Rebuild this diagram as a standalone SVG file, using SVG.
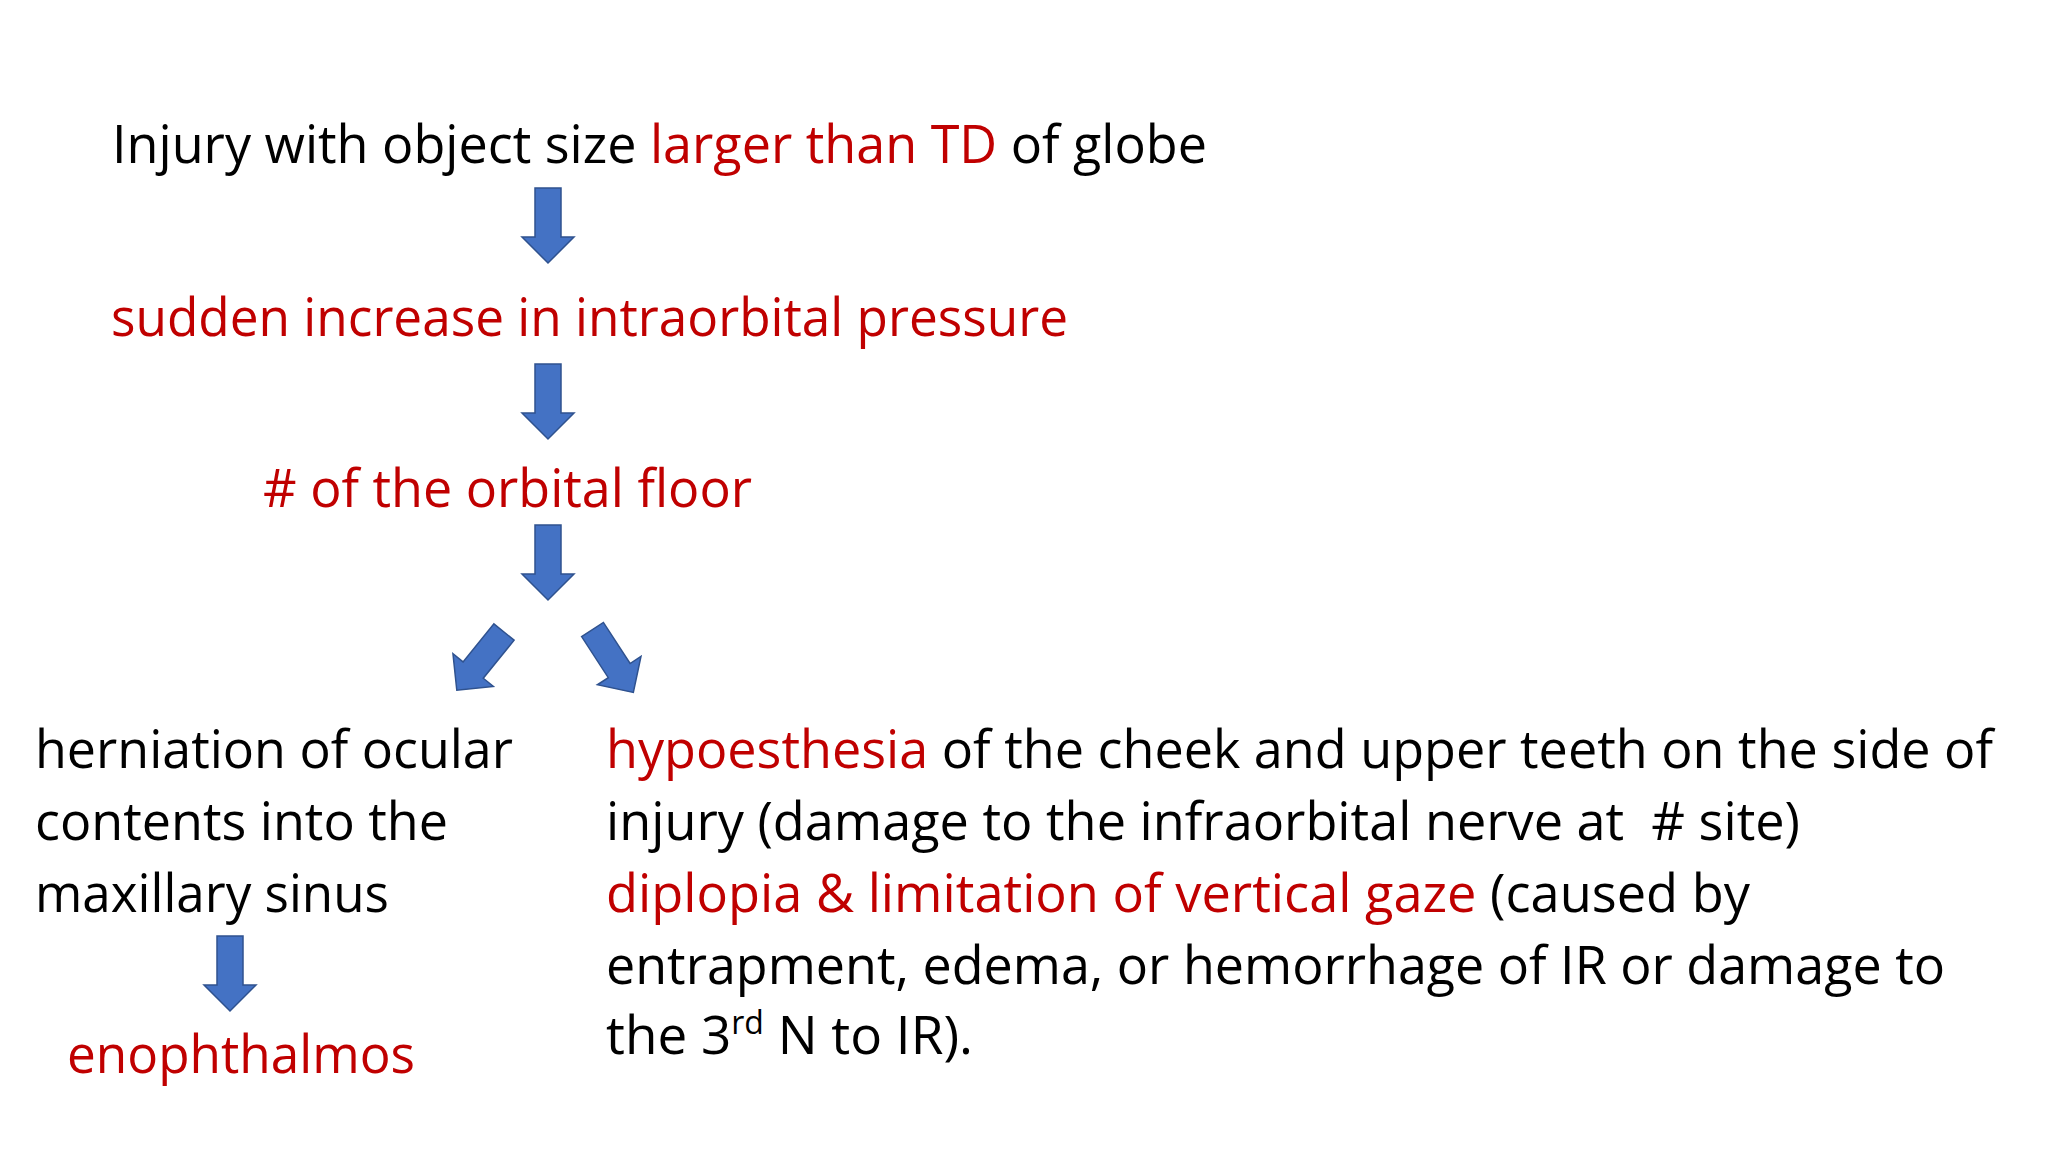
<svg xmlns="http://www.w3.org/2000/svg" xmlns:xlink="http://www.w3.org/1999/xlink" width="2048" height="1152" viewBox="0 0 2048 1152">
  <style>
    text { font-family: "Open Sans", "Liberation Sans", sans-serif; font-size: 53px; fill: #000000; }
    .red { fill: #C00000; }
    .arrow { fill: #4472C4; stroke: #2F528F; stroke-width: 1.5; stroke-linejoin: miter; }
  </style>
  <defs>
    <path id="downArrow" class="arrow" d="M -13,0 H 13 V 49 H 26 L 0,75 L -26,49 H -13 Z"/>
  </defs>
  <rect width="2048" height="1152" fill="#FFFFFF"/>

  <g id="node-injury">
    <text x="112" y="163" textLength="1095" lengthAdjust="spacingAndGlyphs">Injury with object size <tspan class="red">larger than TD</tspan> of globe</text>
  </g>

  <g id="node-pressure">
    <text class="red" x="111" y="336" textLength="957" lengthAdjust="spacingAndGlyphs">sudden increase in intraorbital pressure</text>
  </g>

  <g id="node-fracture">
    <text class="red" x="263" y="507" textLength="489" lengthAdjust="spacingAndGlyphs"># of the orbital floor</text>
  </g>

  <g id="node-herniation">
    <text x="35" y="768" textLength="478" lengthAdjust="spacingAndGlyphs">herniation of ocular</text>
    <text x="35" y="840" textLength="413" lengthAdjust="spacingAndGlyphs">contents into the</text>
    <text x="35" y="912" textLength="354" lengthAdjust="spacingAndGlyphs">maxillary sinus</text>
  </g>

  <g id="node-enophthalmos">
    <text class="red" x="67" y="1073" textLength="348" lengthAdjust="spacingAndGlyphs">enophthalmos</text>
  </g>

  <g id="node-symptoms">
    <text x="606" y="768" textLength="1387" lengthAdjust="spacingAndGlyphs"><tspan class="red">hypoesthesia</tspan> of the cheek and upper teeth on the side of</text>
    <text x="606" y="840" textLength="1194" lengthAdjust="spacingAndGlyphs">injury (damage to the infraorbital nerve at&#160; # site)</text>
    <text x="606" y="912" textLength="1144" lengthAdjust="spacingAndGlyphs"><tspan class="red">diplopia &amp; limitation of vertical gaze</tspan> (caused by</text>
    <text x="606" y="984" textLength="1339" lengthAdjust="spacingAndGlyphs">entrapment, edema, or hemorrhage of IR or damage to</text>
    <text x="606" y="1054">the 3<tspan font-size="32" dy="-20">rd</tspan><tspan dy="20"> N to IR).</tspan></text>
  </g>

  <g id="connectors">
    <use xlink:href="#downArrow" transform="translate(548,188)"/>
    <use xlink:href="#downArrow" transform="translate(548,364)"/>
    <use xlink:href="#downArrow" transform="translate(548,525)"/>
    <use xlink:href="#downArrow" transform="translate(504,632) rotate(39)"/>
    <use xlink:href="#downArrow" transform="translate(592.5,629.5) rotate(-33)"/>
    <use xlink:href="#downArrow" transform="translate(230,936)"/>
  </g>
</svg>
